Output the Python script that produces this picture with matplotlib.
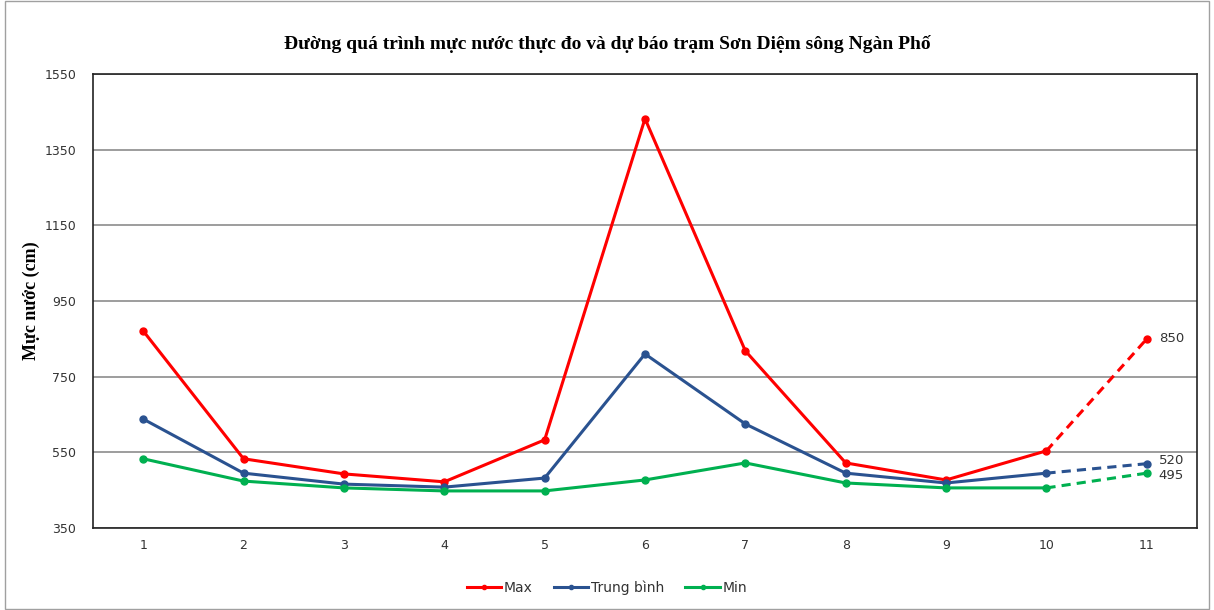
import numpy as np
import matplotlib.pyplot as plt
from matplotlib.patches import Rectangle

# Data
days = np.arange(1, 12)
max_level = [871, 533, 493, 472, 583, 1432, 818, 522, 477, 554, 850]
mean_level = [638, 495, 466, 458, 482, 810, 625, 495, 469, 495, 520]
min_level = [533, 474, 456, 448, 448, 477, 522, 469, 456, 456, 495]

series = [("Max", max_level, "#FF0000"),
          ("Trung bình", mean_level, "#2A5290"),
          ("Min", min_level, "#00B050")]

fig = plt.figure(figsize=(12.14, 6.10), dpi=100)
ax = fig.add_axes([93/1214, 1 - 528/610, 1104/1214, 454/610])

# outer chart border
fig.patches.append(Rectangle((5/1214, 0.002), 1204/1214, 0.996, transform=fig.transFigure,
                             fill=False, edgecolor="#A0A0A0", linewidth=1))

for name, vals, col in series:
    # observed part (solid) and forecast part (dashed)
    ax.plot(days[:10], vals[:10], color=col, lw=2.2, marker="o", ms=5, label=name)
    ax.plot(days[9:], vals[9:], color=col, lw=2.2, ls=(0, (3, 2)), marker="o", ms=5,
            markevery=[1])

# labels at the forecast point
ax.text(11.12, max_level[-1], str(max_level[-1]), va="center", fontsize=9.5, color="#333333")
ax.text(11.12, mean_level[-1] + 9, str(mean_level[-1]), va="center", fontsize=9.5, color="#333333")
ax.text(11.12, min_level[-1] - 6, str(min_level[-1]), va="center", fontsize=9.5, color="#333333")

ax.set_xlim(0.5, 11.5)
ax.set_ylim(350, 1550)
ax.set_xticks(days)
ax.set_yticks(np.arange(350, 1551, 200))
ax.tick_params(axis="both", length=0, labelsize=9, colors="#333333", pad=8)
ax.tick_params(axis="y", pad=12)
ax.grid(axis="y", color="#8C8C8C", lw=1.2)
ax.set_axisbelow(True)
for s in ax.spines.values():
    s.set_color("#222222")
    s.set_linewidth(1.2)

ax.set_ylabel("Mực nước (cm)", fontsize=13, fontweight="bold", family="Liberation Serif")
ax.yaxis.set_label_coords(-53/1104, 0.5)
fig.text(0.5, 1 - 44/610, "Đường quá trình mực nước thực đo và dự báo trạm Sơn Diệm sông Ngàn Phố",
         ha="center", va="center", fontsize=14, fontweight="bold", family="Liberation Serif")

leg = fig.legend(loc="center", bbox_to_anchor=(0.5, 1 - 588/610), ncol=3, frameon=False,
                 fontsize=10, handlelength=2.5, handletextpad=0.2, columnspacing=1.5, markerscale=0.6)
for t in leg.get_texts():
    t.set_color("#333333")

fig.savefig("out.png", dpi=100)
